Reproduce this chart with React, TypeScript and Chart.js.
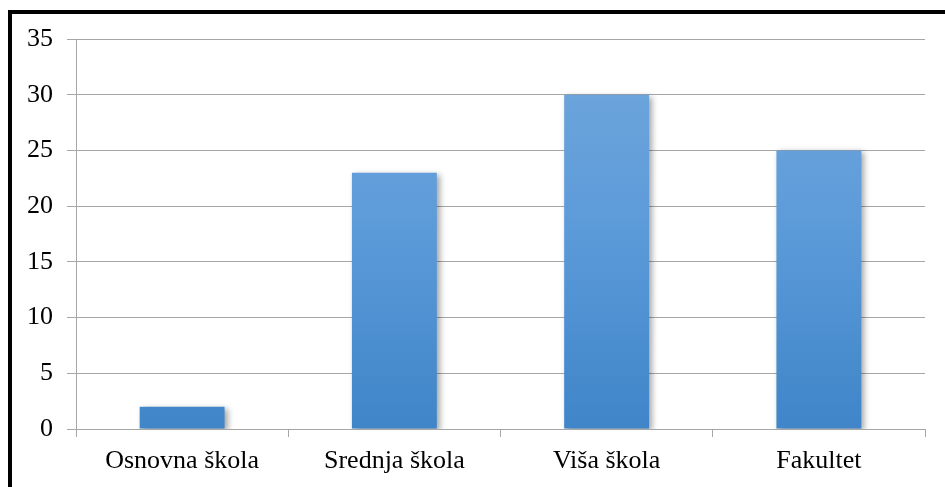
import React, { useEffect, useRef } from "react";
import { Chart, registerables } from "chart.js";

Chart.register(...registerables);

const categories = ["Osnovna škola", "Srednja škola", "Viša škola", "Fakultet"];
const values = [2, 23, 30, 25];
const yMin = 0;
const yMax = 35;
const yStep = 5;

const shadowPlugin = {
  id: "barShadow",
  beforeDatasetsDraw(chart: any) {
    const ctx = chart.ctx;
    ctx.save();
    ctx.shadowColor = "rgba(0,0,0,0.35)";
    ctx.shadowBlur = 6;
    ctx.shadowOffsetX = 3;
    ctx.shadowOffsetY = 2;
  },
  afterDatasetsDraw(chart: any) {
    chart.ctx.restore();
  },
};

const fontFamily = "'Liberation Serif', 'Times New Roman', serif";

export default function App() {
  const ref = useRef<HTMLCanvasElement>(null);
  useEffect(() => {
    if (!ref.current) return;
    const chart = new Chart(ref.current, {
      type: "bar",
      data: {
        labels: categories,
        datasets: [
          {
            data: values,
            backgroundColor: (c: any) => {
              const area = c.chart.chartArea;
              if (!area) return "#5b9bd5";
              const g = c.chart.ctx.createLinearGradient(0, area.top, 0, area.bottom);
              g.addColorStop(0, "#72a8dc");
              g.addColorStop(0.5, "#5b9ad9");
              g.addColorStop(1, "#3f85c8");
              return g;
            },
            borderWidth: 0,
            categoryPercentage: 1,
            barPercentage: 0.4,
          },
        ],
      },
      options: {
        responsive: false,
        animation: false,
        layout: { padding: { left: 0, top: 39, right: 20, bottom: 0 } },
        plugins: { legend: { display: false }, tooltip: { enabled: false } },
        scales: {
          x: {
            grid: {
              drawOnChartArea: false,
              offset: true,
              tickLength: 8,
              color: "#a6a6a6",
            },
            border: { color: "#a6a6a6", width: 1 },
            ticks: {
              color: "#000",
              padding: 9,
              font: { family: fontFamily, size: 26 },
            },
            afterFit: (s: any) => {
              s.height = 58;
            },
          },
          y: {
            min: yMin,
            max: yMax,
            ticks: {
              stepSize: yStep,
              color: "#000",
              padding: 14,
              font: { family: fontFamily, size: 26 },
            },
            grid: { color: "#a6a6a6", tickLength: 9, lineWidth: 1 },
            border: { color: "#a6a6a6", width: 1 },
            afterFit: (s: any) => {
              s.width = 76;
            },
          },
        },
      },
      plugins: [shadowPlugin],
    });
    return () => chart.destroy();
  }, []);
  return (
    <div style={{ position: "absolute", left: 0, top: 0, width: 945, height: 487, overflow: "hidden", background: "#fff" }}>
      <div
        style={{
          position: "absolute",
          left: 8,
          top: 10,
          width: 960,
          height: 500,
          border: "4px solid #000",
          boxSizing: "border-box",
        }}
      />
      <canvas ref={ref} width={945} height={487} style={{ position: "absolute", left: 0, top: 0 }} />
    </div>
  );
}
